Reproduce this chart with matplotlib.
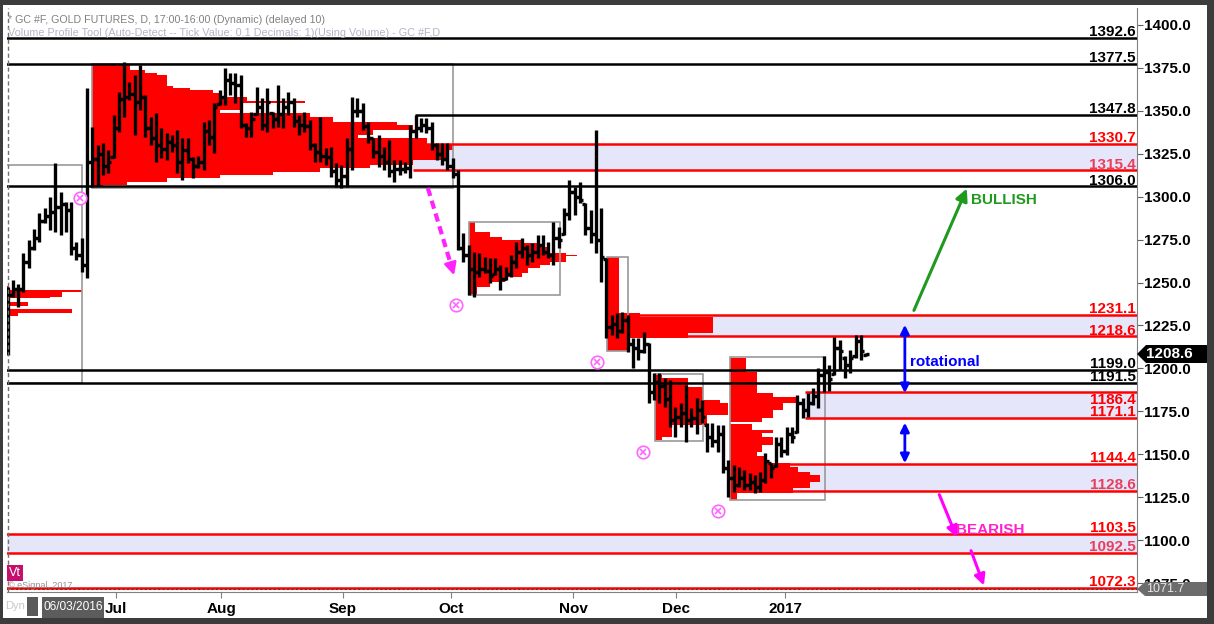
import matplotlib.pyplot as plt
from matplotlib.collections import LineCollection
from matplotlib.patches import Rectangle, Polygon

# daily OHLC bars, 06/03/2016 .. mid Jan 2017 (bar index 0..162)
highs = [
    1247.4, 1251.5, 1249.0, 1267.0, 1275.0, 1281.0, 1290.5, 1293.6, 1300.0, 1319.6,
    1302.7, 1297.0, 1297.0, 1273.6, 1276.0, 1363.3, 1340.6, 1330.0, 1331.0, 1327.0,
    1347.6, 1361.0, 1378.5, 1366.8, 1370.9, 1376.7, 1359.0, 1346.4, 1348.7, 1340.0,
    1337.0, 1336.0, 1338.8, 1334.0, 1334.0, 1323.0, 1324.0, 1343.5, 1344.7, 1354.6,
    1362.0, 1375.0, 1372.0, 1372.0, 1371.0, 1343.0, 1349.3, 1364.0, 1357.5, 1363.3,
    1349.3, 1365.0, 1357.5, 1361.0, 1357.5, 1347.6, 1349.3, 1344.7, 1331.3, 1346.4,
    1328.4, 1329.0, 1319.6, 1318.5, 1334.0, 1358.0, 1357.5, 1354.6, 1343.5, 1334.0,
    1336.0, 1329.0, 1333.0, 1321.4, 1321.4, 1320.0, 1341.8, 1347.6, 1346.0, 1346.0,
    1343.5, 1331.3, 1331.3, 1331.3, 1322.5, 1315.5, 1279.0, 1272.0, 1268.0, 1267.5,
    1265.0, 1264.3, 1264.3, 1260.0, 1259.0, 1266.0, 1273.6, 1276.0, 1272.0, 1273.0,
    1277.7, 1277.7, 1273.6, 1285.0, 1282.3, 1293.6, 1309.7, 1305.6, 1308.6, 1296.3,
    1292.3, 1338.8, 1293.6, 1264.3, 1231.0, 1232.0, 1233.0, 1231.0, 1217.7, 1217.7,
    1221.0, 1215.0, 1197.3, 1197.3, 1194.4, 1193.0, 1177.5, 1180.0, 1190.3, 1177.0,
    1183.0, 1181.6, 1168.0, 1168.0, 1167.0, 1167.0, 1146.6, 1143.7, 1142.6, 1141.0,
    1139.0, 1138.0, 1139.7, 1150.7, 1145.0, 1160.0, 1160.0, 1166.0, 1166.0, 1184.5,
    1183.0, 1185.7, 1188.6, 1200.0, 1207.0, 1202.0, 1218.3, 1216.5, 1207.0, 1211.0,
    1219.5, 1219.5, 1209.0,
]
lows = [
    1207.8, 1241.6, 1236.0, 1244.5, 1258.5, 1269.0, 1273.6, 1284.7, 1280.6, 1279.4,
    1277.7, 1279.4, 1266.0, 1263.0, 1256.0, 1252.7, 1305.6, 1306.8, 1312.6, 1314.0,
    1322.5, 1337.7, 1346.4, 1356.3, 1336.0, 1350.5, 1334.8, 1330.0, 1320.0, 1322.5,
    1321.4, 1326.0, 1313.8, 1309.7, 1319.6, 1311.0, 1316.7, 1315.5, 1330.0, 1325.5,
    1353.4, 1353.4, 1359.0, 1354.6, 1340.0, 1334.8, 1334.8, 1347.6, 1338.8, 1337.7,
    1340.0, 1340.6, 1340.0, 1347.6, 1340.6, 1336.0, 1337.7, 1327.2, 1320.2, 1320.2,
    1318.5, 1311.5, 1305.6, 1305.0, 1305.6, 1315.5, 1346.4, 1338.8, 1331.3, 1322.5,
    1317.3, 1315.5, 1311.5, 1308.6, 1312.6, 1313.8, 1311.0, 1334.0, 1337.7, 1337.0,
    1327.2, 1321.4, 1318.5, 1315.5, 1311.0, 1269.0, 1262.0, 1243.0, 1241.6, 1253.0,
    1255.6, 1249.8, 1254.4, 1245.7, 1251.5, 1253.0, 1258.5, 1264.3, 1260.0, 1262.0,
    1264.3, 1266.0, 1264.3, 1260.0, 1270.0, 1277.7, 1286.4, 1289.3, 1296.3, 1277.7,
    1273.0, 1267.3, 1250.3, 1217.7, 1219.5, 1218.0, 1220.6, 1209.5, 1200.0, 1205.0,
    1209.0, 1180.0, 1181.6, 1180.0, 1177.5, 1166.0, 1160.0, 1166.0, 1157.0, 1166.0,
    1162.0, 1168.0, 1151.3, 1154.0, 1151.3, 1139.0, 1125.0, 1128.0, 1131.0, 1129.2,
    1129.2, 1127.4, 1128.0, 1133.3, 1136.0, 1142.6, 1148.4, 1149.6, 1156.6, 1162.4,
    1171.0, 1171.7, 1178.7, 1176.7, 1186.0, 1186.6, 1196.0, 1199.0, 1194.4, 1197.3,
    1206.0, 1205.0, 1207.0,
]
opens = [
    1212, 1243, 1246, 1246, 1262, 1270, 1276, 1286, 1289, 1291,
    1294, 1296, 1292, 1270, 1266, 1260, 1320, 1322, 1325, 1318,
    1323, 1340, 1357, 1358, 1360, 1355, 1358, 1340, 1334, 1330,
    1328, 1332, 1330, 1320, 1327, 1322, 1318, 1320, 1338, 1335,
    1354, 1358, 1368, 1366, 1365, 1342, 1340, 1348, 1352, 1342,
    1349, 1345, 1348, 1352, 1355, 1344, 1342, 1341, 1330, 1326,
    1324, 1323, 1315, 1310, 1312, 1328, 1350, 1350, 1341, 1334,
    1326, 1324, 1320, 1315, 1316, 1316, 1317, 1338, 1340, 1342,
    1340, 1330, 1325, 1322, 1318, 1313, 1270, 1266, 1258, 1256,
    1258, 1257, 1255, 1258, 1252, 1255, 1262, 1268, 1270, 1266,
    1268, 1272, 1268, 1266, 1276, 1278, 1290, 1303, 1300, 1296,
    1282, 1278, 1275, 1264, 1224, 1226, 1222, 1228, 1214, 1212,
    1210, 1214, 1186, 1192, 1190, 1182, 1170, 1172, 1174, 1170,
    1171, 1176, 1167, 1160, 1158, 1162, 1142, 1136, 1132, 1136,
    1132, 1134, 1131, 1135, 1145, 1143, 1156, 1152, 1162, 1163,
    1180, 1176, 1180, 1184, 1196, 1198, 1197, 1212, 1206, 1202,
    1207, 1216, 1208,
]
closes = [
    1243, 1246, 1246, 1262, 1270, 1276, 1286, 1289, 1291, 1294,
    1296, 1292, 1270, 1266, 1260, 1320, 1322, 1325, 1318, 1320,
    1340, 1357, 1358, 1360, 1355, 1358, 1340, 1334, 1330, 1328,
    1332, 1330, 1320, 1327, 1322, 1318, 1320, 1338, 1335, 1352,
    1358, 1368, 1366, 1365, 1342, 1340, 1345, 1352, 1342, 1355,
    1345, 1348, 1352, 1355, 1344, 1342, 1341, 1330, 1326, 1324,
    1323, 1315, 1310, 1312, 1328, 1350, 1350, 1341, 1334, 1326,
    1324, 1320, 1315, 1316, 1316, 1317, 1338, 1340, 1342, 1340,
    1330, 1325, 1322, 1318, 1313, 1270, 1266, 1258, 1256, 1258,
    1257, 1254, 1258, 1252, 1255, 1262, 1268, 1270, 1266, 1268,
    1272, 1268, 1266, 1276, 1275, 1290, 1303, 1300, 1298, 1282,
    1278, 1275, 1265, 1224, 1226, 1222, 1228, 1214, 1212, 1210,
    1214, 1186, 1192, 1190, 1182, 1170, 1172, 1174, 1170, 1171,
    1176, 1172, 1160, 1158, 1162, 1142, 1136, 1132, 1136, 1132,
    1134, 1131, 1135, 1146, 1142, 1156, 1152, 1162, 1160, 1180,
    1176, 1180, 1184, 1196, 1198, 1194, 1212, 1210, 1202, 1206,
    1216, 1210, 1208.6,
]

month_pos = [20.4, 40.3, 63.3, 83.7, 106.7, 126.1, 146.7]
month_labels = ["Jul", "Aug", "Sep", "Oct", "Nov", "Dec", "2017"]

# volume profiles: (price low, price high, right edge in bars)
vp1 = [(1246.2, 1248.0, 0.3), (1244.5, 1245.7, 14.1), (1241.6, 1244.5, 10.3),
       (1241.0, 1241.6, 8.0), (1236.3, 1238.7, 3.9), (1232.3, 1234.6, 12.2),
       (1230.5, 1232.3, 2.0)]
vp2 = [(1376.7, 1377.9, 21.2), (1373.8, 1376.7, 23.1), (1372.0, 1373.8, 25.9),
       (1370.9, 1372.0, 28.2), (1364.5, 1370.9, 30.1), (1363.3, 1364.5, 31.2),
       (1362.1, 1363.3, 34.4), (1360.4, 1362.1, 38.8), (1358.1, 1360.4, 40.1),
       (1355.5, 1358.1, 45.2), (1354.6, 1355.5, 56.1), (1350.5, 1354.6, 43.9),
       (1348.7, 1350.5, 40.1), (1346.4, 1348.7, 57.1), (1343.5, 1346.4, 61.4),
       (1341.8, 1343.5, 73.5), (1338.8, 1341.8, 76.5), (1335.9, 1338.8, 69.0),
       (1334.2, 1335.9, 66.1), (1330.1, 1334.2, 79.2), (1327.2, 1330.1, 84.1),
       (1321.4, 1327.2, 82.9), (1318.5, 1321.4, 76.5), (1316.7, 1318.5, 68.4),
       (1314.4, 1316.7, 59.0), (1312.6, 1314.4, 50.1), (1310.9, 1312.6, 40.1),
       (1308.6, 1310.9, 30.1), (1306.8, 1308.6, 22.5), (1305.6, 1306.8, 18.0)]
vp3 = [(1279.4, 1285.3, 88.2), (1276.5, 1279.4, 91.0), (1274.8, 1276.5, 93.3),
       (1273.0, 1274.8, 97.1), (1270.7, 1273.0, 99.9), (1267.2, 1270.7, 102.4),
       (1264.9, 1267.2, 105.4), (1265.6, 1266.2, 107.5), (1262.0, 1264.9, 105.4),
       (1260.2, 1262.0, 102.4), (1258.5, 1260.2, 100.5), (1255.6, 1258.5, 98.2),
       (1253.2, 1255.6, 97.1), (1250.3, 1253.2, 93.9), (1247.4, 1250.3, 91.0),
       (1242.7, 1247.4, 88.6)]
vp4 = [(1232.3, 1264.9, 115.4), (1230.0, 1232.3, 119.3), (1220.6, 1230.0, 133.1),
       (1217.7, 1220.6, 128.4), (1210.1, 1217.7, 116.9)]
vp5 = [(1194.4, 1196.2, 123.5), (1189.2, 1194.4, 128.4), (1181.6, 1189.2, 131.2),
       (1179.8, 1181.6, 134.4), (1172.9, 1179.8, 135.9), (1167.0, 1172.9, 131.9),
       (1160.0, 1167.0, 125.4), (1158.3, 1160.0, 123.5)]
vp6 = [(1197.9, 1206.1, 139.3), (1185.7, 1197.9, 141.4), (1183.3, 1185.7, 144.4),
       (1179.8, 1183.3, 149.0), (1175.8, 1179.8, 146.3), (1171.1, 1175.8, 144.4),
       (1168.8, 1171.1, 142.4), (1164.1, 1167.6, 140.5), (1162.4, 1164.1, 144.4),
       (1160.0, 1162.4, 142.4), (1155.4, 1160.0, 144.4), (1151.3, 1155.4, 142.4),
       (1149.0, 1151.3, 141.4), (1144.9, 1149.0, 143.3), (1142.6, 1144.9, 147.6),
       (1139.7, 1142.6, 149.2), (1137.9, 1139.7, 151.4), (1133.8, 1137.9, 153.3),
       (1130.3, 1133.8, 151.4), (1127.4, 1130.3, 148.2), (1123.4, 1127.4, 137.6)]
profiles = [vp1, vp2, vp3, vp4, vp5, vp6]
# profile boxes: (first bar, last bar, price low, price high)
boxes = [(-0.7, 14.1, 1191.5, 1318.5), (15.9, 84.1, 1305.1, 1377.3),
         (87.1, 104.2, 1242.7, 1285.3), (113.1, 117.1, 1210.1, 1264.9),
         (122.2, 131.2, 1157.7, 1196.7), (136.3, 154.2, 1123.4, 1206.6)]

levels = [1392.6, 1377.5, 1347.8, 1330.7, 1315.4, 1306.0, 1231.1, 1218.6, 1199.0,
          1191.5, 1186.4, 1171.1, 1144.4, 1128.6, 1103.5, 1092.5, 1072.3]
level_start = [-1, -1, 76.9, 76.5, 76.5, -1, 117.0, 117.0, -1,
               -1, 150.5, 150.5, 145.0, 145.0, -1, -1, -1]
level_kind = ["k", "k", "k", "r", "p", "k", "r", "r", "k",
              "k", "r", "r", "r", "p", "r", "p", "r"]
zones = [(1315.4, 1330.7, 76.5), (1218.6, 1231.1, 117.0), (1171.1, 1186.4, 150.5),
         (1128.6, 1144.4, 145.0), (1092.5, 1103.5, -1)]

marks_x = [13.7, 84.6, 111.2, 119.9, 134.1]
marks_y = [1299.2, 1236.9, 1203.7, 1151.3, 1117.0]

last_price = 1208.6
other_price = 1071.7

W, H = 1214, 624
plt.rcParams['font.family'] = ['Liberation Sans', 'DejaVu Sans']


def fx(px):
    return px / W


def fy(py):
    return 1 - py / H


fig = plt.figure(figsize=(W / 100, H / 100), dpi=100)
ax = fig.add_axes([fx(7), fy(592), (1137 - 7) / W, (592 - 8) / H])
XMAX = 213.1
ax.set_xlim(-0.1, XMAX)
ax.set_ylim(1069.8, 1409.9)

for lo, hi, x0 in zones:
    ax.fill_between([x0, XMAX], lo, hi, color="#e6e6fa", lw=0, zorder=1)

for prof, box in zip(profiles, boxes):
    left = box[0]
    for lo, hi, right in prof:
        ax.barh((lo + hi) / 2, right - left, height=hi - lo, left=left,
                color="#ff0000", lw=0, zorder=2)
    ax.add_patch(Rectangle((box[0], box[2]), box[1] - box[0], box[3] - box[2],
                           fill=False, ec="#9a9a9a", lw=1.2, zorder=3))

colors = {"k": "#000000", "r": "#ff0000", "p": "#e8405c"}
for v, x0, kind in zip(levels, level_start, level_kind):
    lc = "#000000" if kind == "k" else "#ff0000"
    ax.hlines(v, x0, XMAX, color=lc, lw=1.8, zorder=4)
    ty = v + 1.0
    if v == 1186.4:
        ty = 1179.5
    ax.text(XMAX - 0.2, ty, f"{v:.1f}", ha="right", va="baseline",
            color=colors[kind], fontsize=11, fontweight="bold", zorder=8)
ax.hlines(other_price, -1, XMAX, color="#404040", lw=0.8, ls=(0, (2, 2)), zorder=4)

segs = []
for i, (o, h, l, c) in enumerate(zip(opens, highs, lows, closes)):
    segs.append([(i, l), (i, h)])
    segs.append([(i - 0.6, o), (i, o)])
    segs.append([(i, c), (i + 0.6, c)])
ax.add_collection(LineCollection(segs, colors="black", linewidths=2.4,
                                 capstyle="butt", zorder=5))

ax.axvline(0, color="#707070", lw=1, ls=(0, (3, 2)), zorder=6)

ax.plot(marks_x, marks_y, "o", ms=9, mfc="white", mec="#ff66ff", mew=1.2, zorder=6)
ax.plot(marks_x, marks_y, "x", ms=5, mec="#ff66ff", mew=1.2, zorder=7)

# arrows
ax.plot([79.3, 83.6], [1305.1, 1261.0], color="#ff22ff", lw=3, ls=(0, (2, 1.2)), zorder=6)
ax.annotate("", xy=(84.4, 1252.7), xytext=(83.5, 1262.0),
            arrowprops=dict(arrowstyle="-|>", color="#ff22ff", lw=2, mutation_scale=18),
            zorder=6)
ax.annotate("", xy=(181.2, 1306.2), xytext=(170.8, 1232.3),
            arrowprops=dict(arrowstyle="-|>", color="#1f9a1f", lw=2.2, mutation_scale=18),
            zorder=6)
for y0, y1 in [(1227.0, 1184.0), (1170.0, 1143.2)]:
    ax.annotate("", xy=(169.3, y1), xytext=(169.3, y0),
                arrowprops=dict(arrowstyle="<|-|>", color="#0000ff", lw=2,
                                mutation_scale=13), zorder=6)
ax.annotate("", xy=(179.3, 1100.1), xytext=(175.6, 1128.0),
            arrowprops=dict(arrowstyle="-|>", color="#ff00ff", lw=2.2, mutation_scale=16),
            zorder=6)
ax.annotate("", xy=(184.4, 1072.1), xytext=(181.6, 1095.4),
            arrowprops=dict(arrowstyle="-|>", color="#ff00ff", lw=2.2, mutation_scale=16),
            zorder=6)
ax.text(181.8, 1298, "BULLISH", color="#1f9a1f", fontsize=11, fontweight="bold",
        va="center", zorder=8)
ax.text(170.3, 1203.7, "rotational", color="#0000ff", fontsize=11, fontweight="bold",
        va="center", zorder=8)
ax.text(179.0, 1106.0, "BEARISH", color="#ff22cc", fontsize=11, fontweight="bold",
        va="center", zorder=8)

# axes styling
for s in ["left", "top"]:
    ax.spines[s].set_visible(False)
for s in ["right", "bottom"]:
    ax.spines[s].set_color("#808080")
ax.yaxis.tick_right()
yt = [1075 + 25 * k for k in range(14)]
ax.set_yticks(yt, labels=[f"{v:.1f}" for v in yt], fontsize=11, fontweight="bold")
ax.tick_params(axis="y", length=4, pad=1, color="#606060")
ax.set_xticks(month_pos, labels=month_labels, fontsize=11, fontweight="bold")
ax.tick_params(axis="x", length=4, pad=3, color="#808080")

# header texts
fig.text(fx(8), fy(20), "* GC #F, GOLD FUTURES, D, 17:00-16:00 (Dynamic) (delayed 10)",
         color="#808080", fontsize=7.7, va="center")
fig.text(fx(8), fy(33), "Volume Profile Tool (Auto-Detect -- Tick Value: 0.1 Decimals: 1)"
         "(Using Volume) - GC #F,D", color="#b4b4c8", fontsize=7.8, va="center")

fig.text(fx(9), fy(573), "Vt", color="white", fontsize=9, va="center",
         bbox=dict(boxstyle="square,pad=0.15", fc="#c4106c", ec="none"))
fig.text(fx(8), fy(586), "\u00a9 eSignal, 2017", color="#909090", fontsize=6.5, va="center")

# price flags on the right axis
fig.patches.append(Polygon([(fx(1137), fy(354)), (fx(1146), fy(345)), (fx(1207), fy(345)),
                            (fx(1207), fy(363)), (fx(1146), fy(363))],
                           closed=True, transform=fig.transFigure, fc="black", ec="none"))
fig.text(fx(1146), fy(354), f"{last_price:.1f}", color="white", fontsize=11,
         fontweight="bold", va="center")
fig.patches.append(Polygon([(fx(1137), fy(589)), (fx(1145), fy(582)), (fx(1207), fy(582)),
                            (fx(1207), fy(596)), (fx(1145), fy(596))],
                           closed=True, transform=fig.transFigure, fc="#6c6c6c", ec="none"))
fig.text(fx(1146), fy(589), f"{other_price:.1f}", color="#e8e8e8", fontsize=9, va="center")

# bottom strip
fig.text(fx(5), fy(606), "Dyn", color="#c8c8c8", fontsize=8, va="center")
fig.patches.append(Rectangle((fx(27), fy(616)), 11 / W, 19 / H, transform=fig.transFigure,
                             fc="#5a5a5a", ec="none"))
fig.patches.append(Rectangle((fx(42), fy(618)), 62 / W, 21 / H, transform=fig.transFigure,
                             fc="#5c5c5c", ec="none"))
fig.text(fx(73), fy(607), "06/03/2016", color="white", fontsize=8.6, ha="center", va="center")

# outer frame
frame = "#3c3c3c"
for x0, y0, w, h in [(0, 0, 3, H), (1207, 0, 7, H), (0, 0, W, 5), (0, 618, W, 6)]:
    fig.patches.append(Rectangle((fx(x0), fy(y0 + h)), w / W, h / H,
                                 transform=fig.transFigure, fc=frame, ec="none"))

fig.savefig("out.png", dpi=100)
